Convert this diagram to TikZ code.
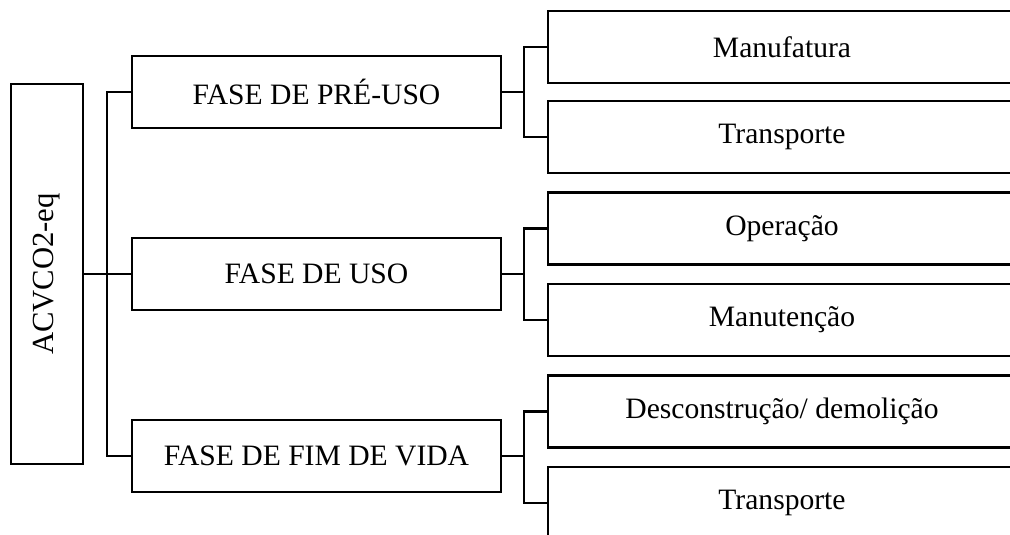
\documentclass[tikz,border=0pt]{standalone}
\usepackage{fontspec}
\setmainfont{Liberation Serif}
\tikzset{
  caixa/.style={draw, line width=1.6pt, inner sep=0pt, anchor=center},
  ligacao/.style={line width=1.6pt},
}
\begin{document}
\begin{tikzpicture}[x=0.75pt, y=-0.75pt]
                    \useasboundingbox (0,0) rectangle (1010,535);
                    \clip (0,0) rectangle (1010,535);
                    {\fontsize{22.2}{26}\selectfont

                    % Drawing box ACVCO2-eq
                    \node [caixa, minimum width=72*0.75pt, minimum height=380*0.75pt] (acv) at (47,274) {};%
                    \node [rotate=90] at (acv.center) {\fontsize{23}{27}\selectfont ACVCO2-eq};%

                    % Drawing phase boxes
                    \node [caixa, minimum width=369*0.75pt, minimum height=72*0.75pt] (pre) at (316.5,92) {FASE DE PRÉ-USO};%
                    \node [caixa, minimum width=369*0.75pt, minimum height=72*0.75pt] (uso) at (316.5,274) {FASE DE USO};%
                    \node [caixa, minimum width=369*0.75pt, minimum height=72*0.75pt] (fim) at (316.5,456) {FASE DE FIM DE VIDA};%

                    % Drawing stage boxes
                    \node [caixa, minimum width=468*0.75pt, minimum height=72*0.75pt] (manu) at (782,47) {Manufatura};%
                    \node [caixa, minimum width=468*0.75pt, minimum height=72*0.75pt] (trpa) at (782,137) {Transporte};%
                    \node [caixa, minimum width=468*0.75pt, minimum height=72*0.75pt] (oper) at (782,228.5) {Operação};%
                    \node [caixa, minimum width=468*0.75pt, minimum height=72*0.75pt] (mant) at (782,320) {Manutenção};%
                    \node [caixa, minimum width=468*0.75pt, minimum height=72*0.75pt] (desc) at (782,411.5) {Desconstrução/ demolição};%
                    \node [caixa, minimum width=468*0.75pt, minimum height=72*0.75pt] (trpb) at (782,503) {Transporte};%

                    % Drawing bus from ACVCO2-eq
                    \coordinate (busL) at (107,274);%
                    \draw [ligacao] (acv.east) -- (busL);%
                    \draw [ligacao] (pre.west) -| (busL) |- (fim.west);%
                    \draw [ligacao] (uso.west) -- (busL);%

                    % Drawing bus from FASE DE PRE-USO
                    \coordinate (busA) at (524,92);%
                    \draw [ligacao] (pre.east) -- (busA);%
                    \draw [ligacao] (manu.west) -| (busA) |- (trpa.west);%

                    % Drawing bus from FASE DE USO
                    \coordinate (busB) at (524,274);%
                    \draw [ligacao] (uso.east) -- (busB);%
                    \draw [ligacao] (oper.west) -| (busB) |- (mant.west);%

                    % Drawing bus from FASE DE FIM DE VIDA
                    \coordinate (busC) at (524,456);%
                    \draw [ligacao] (fim.east) -- (busC);%
                    \draw [ligacao] (desc.west) -| (busC) |- (trpb.west);%
                    }
\end{tikzpicture}
\end{document}
